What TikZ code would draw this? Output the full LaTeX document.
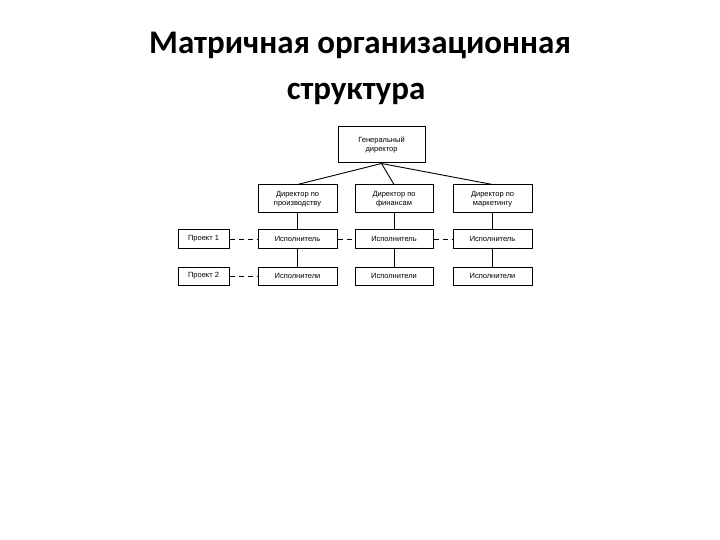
\documentclass[tikz,border=0pt]{standalone}
\usepackage{fontspec}
\setmainfont{Carlito}
\newfontfamily\boxfont{Liberation Sans}
\begin{document}
\begin{tikzpicture}[x=1pt,y=-1pt,
  bx/.style={draw,line width=1pt,inner sep=0pt,align=center,font=\boxfont\fontsize{7.5}{9}\selectfont},
  ln/.style={line width=0.9pt},
  dl/.style={line width=0.9pt,dash pattern=on 5pt off 4pt}]
\useasboundingbox (0,0) rectangle (720,540);
\node[font=\fontsize{33}{40}\selectfont\bfseries] (t1) at (360,45) {Матричная организационная};
\node[font=\fontsize{33}{40}\selectfont\bfseries] (t2) at (356,94) {структура};
\node[bx,minimum width=87pt,minimum height=36pt] (g) at (381.5,145) {Генеральный\\директор};
\node[bx,minimum width=79pt,minimum height=28pt] (d1) at (297.5,199) {Директор по\\производству};
\node[bx,minimum width=78pt,minimum height=28pt] (d2) at (394,199) {Директор по\\финансам};
\node[bx,minimum width=79pt,minimum height=28pt] (d3) at (492.5,199) {Директор по\\маркетингу};
\node[bx,minimum width=79pt,minimum height=18pt] (e1) at (297.5,239) {Исполнитель};
\node[bx,minimum width=78pt,minimum height=18pt] (e2) at (394,239) {Исполнитель};
\node[bx,minimum width=79pt,minimum height=18pt] (e3) at (492.5,239) {Исполнитель};
\node[bx,minimum width=79pt,minimum height=18pt] (f1) at (297.5,276) {Исполнители};
\node[bx,minimum width=78pt,minimum height=18pt] (f2) at (394,276) {Исполнители};
\node[bx,minimum width=79pt,minimum height=18pt] (f3) at (492.5,276) {Исполнители};
\node[bx,minimum width=51pt,minimum height=18pt] (p1) at (203.5,239) {Проект 1};
\node[bx,minimum width=51pt,minimum height=18pt] (p2) at (203.5,276) {Проект 2};
\foreach \d in {d1,d2,d3} \draw[ln] (g.south) -- (\d.north);
\draw[ln] (d1) -- (e1) (e1) -- (f1) (d2) -- (e2) (e2) -- (f2) (d3) -- (e3) (e3) -- (f3);
\draw[dl] (p1) -- (e1); \draw[dl] (e1) -- (e2); \draw[dl] (e2) -- (e3);
\draw[dl] (p2) -- (f1);
\end{tikzpicture}
\end{document}
